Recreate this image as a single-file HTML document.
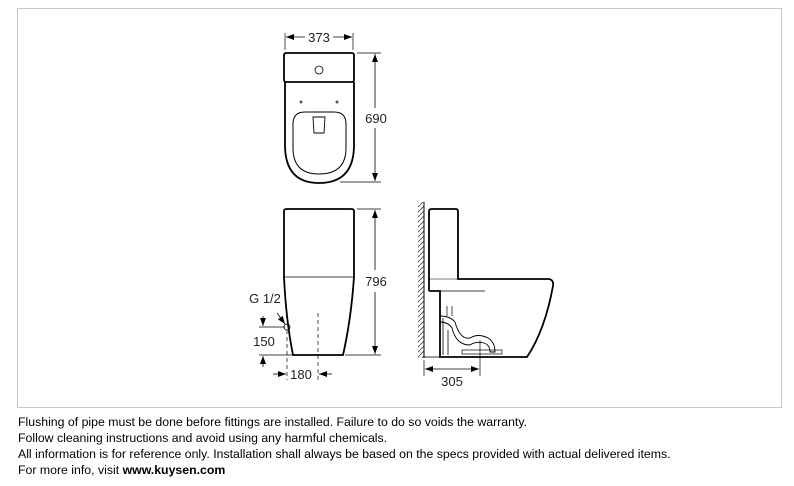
<!DOCTYPE html>
<html><head><meta charset="utf-8"><style>
body{margin:0;background:#fff;width:794px;height:486px;overflow:hidden;position:relative;font-family:"Liberation Sans",sans-serif}
.frame{position:absolute;left:17px;top:8px;width:763px;height:398px;border:1px solid #c8c8c8}
.txt{position:absolute;left:18px;top:414px;font-size:12.3px;line-height:16px;color:#000;white-space:nowrap}
svg{position:absolute;left:0;top:0}
</style></head><body>
<div class="frame"></div>
<svg width="794" height="486" viewBox="0 0 794 486">
<defs>
<marker id="a" markerWidth="8" markerHeight="6" refX="8" refY="3" orient="auto" markerUnits="userSpaceOnUse"><path d="M0,0 L8,3 L0,6z" fill="#000"/></marker>
<pattern id="h" width="5" height="5" patternUnits="userSpaceOnUse"><path d="M0,5 L5,0" stroke="#444" stroke-width="0.8"/></pattern>
</defs>
<g fill="none" stroke="#000" stroke-width="1.2">
<line x1="285" y1="33" x2="285" y2="50" stroke-width="0.7"/><line x1="353" y1="33" x2="353" y2="50" stroke-width="0.7"/>
<line x1="305" y1="37" x2="286" y2="37" marker-end="url(#a)" stroke-width="0.8"/><line x1="333" y1="37" x2="352" y2="37" marker-end="url(#a)" stroke-width="0.8"/>
<rect x="284" y="53" width="70" height="29" rx="2" stroke-width="1.8"/>
<circle cx="319" cy="70" r="4" stroke-width="0.8"/>
<path d="M285,82 L285,145 Q285,183 319,183 Q354,183 354,145 L354,82" stroke-width="1.8"/>
<path d="M293,124 Q293,112 305,112 L334,112 Q346,112 346,124 L346,148 Q346,174 319,174 Q293,174 293,148Z" stroke-width="1"/>
<path d="M313,117 L325,117 L324,133 L314,133Z" stroke-width="0.9"/>
<circle cx="301" cy="102" r="1.5" fill="#555" stroke="none"/><circle cx="337" cy="102" r="1.5" fill="#555" stroke="none"/>
<line x1="357" y1="53" x2="381" y2="53" stroke-width="0.7"/><line x1="340" y1="182" x2="381" y2="182" stroke-width="0.7"/>
<line x1="375" y1="108" x2="375" y2="54" marker-end="url(#a)" stroke-width="0.8"/><line x1="375" y1="128" x2="375" y2="181" marker-end="url(#a)" stroke-width="0.8"/>
<path d="M284,277 L284,211 Q284,209 287,209 L351,209 Q354,209 354,211 L354,277" stroke-width="1.8"/>
<line x1="284" y1="277" x2="354" y2="277" stroke-width="0.8"/>
<path d="M284,277 Q286,320 293,355 L343,355 Q351,320 354,277" stroke-width="1.8"/>
<line x1="357" y1="209" x2="381" y2="209" stroke-width="0.7"/><line x1="345" y1="355" x2="381" y2="355" stroke-width="0.7"/>
<line x1="375" y1="270" x2="375" y2="210" marker-end="url(#a)" stroke-width="0.8"/><line x1="375" y1="292" x2="375" y2="354" marker-end="url(#a)" stroke-width="0.8"/>
<line x1="318" y1="313" x2="318" y2="380" stroke-width="0.7" stroke-dasharray="4,3"/>
<line x1="287" y1="330" x2="287" y2="380" stroke-width="0.7" stroke-dasharray="4,3"/>
<circle cx="287" cy="327" r="3" stroke-width="0.8"/>
<line x1="277" y1="313" x2="285" y2="324" marker-end="url(#a)" stroke-width="0.8"/>
<line x1="259" y1="327" x2="285" y2="327" stroke-width="0.7"/><line x1="259" y1="355" x2="292" y2="355" stroke-width="0.7"/>
<line x1="263" y1="316" x2="263" y2="326" marker-end="url(#a)" stroke-width="0.8"/><line x1="263" y1="367" x2="263" y2="356" marker-end="url(#a)" stroke-width="0.8"/>
<line x1="273" y1="374" x2="286" y2="374" marker-end="url(#a)" stroke-width="0.8"/><line x1="332" y1="374" x2="319" y2="374" marker-end="url(#a)" stroke-width="0.8"/>
<rect x="418" y="202" width="6" height="156" fill="url(#h)" stroke="none"/>
<line x1="424" y1="202" x2="424" y2="358" stroke-width="1"/>
<path d="M429,291 L429,211 Q429,209 432,209 L456,209 Q458,209 458,212 L458,279 L549,279 Q554,280 553,286 Q545,330 527,357 L440,357 L440,291 L429,291" stroke-width="1.8"/>
<line x1="429" y1="279" x2="458" y2="279" stroke-width="0.6"/>
<line x1="440" y1="291" x2="485" y2="291" stroke-width="0.8"/>
<line x1="424" y1="357" x2="440" y2="357" stroke-width="0.8"/>
<path d="M443,318 L443,355 M448,330 L448,355" stroke-width="0.8"/>
<path d="M440,316 Q450,316 455,322 Q460,340 470,338 Q478,333 488,338 Q495,342 495,352 L490,352 Q490,345 484,343 Q476,341 470,345 Q456,345 452,328 Q448,322 440,322" stroke-width="0.9"/>
<path d="M447,306 L447,316 M452,306 L452,316" stroke-width="0.7"/>
<rect x="462" y="350" width="40" height="4" stroke-width="0.7"/>
<line x1="424" y1="360" x2="424" y2="376" stroke-width="0.7"/><line x1="480" y1="340" x2="480" y2="376" stroke-width="0.7"/>
<line x1="440" y1="369" x2="425" y2="369" marker-end="url(#a)" stroke-width="0.8"/><line x1="440" y1="369" x2="479" y2="369" marker-end="url(#a)" stroke-width="0.8"/>
</g>
<g font-family="Liberation Sans,sans-serif" font-size="13" fill="#222" text-anchor="middle">
<text x="319" y="42">373</text>
<text x="376" y="123">690</text>
<text x="376" y="286">796</text>
<text x="265" y="303">G 1/2</text>
<text x="264" y="346">150</text>
<text x="301" y="379">180</text>
<text x="452" y="386">305</text>
</g>
</svg>
<div class="txt">Flushing of pipe must be done before fittings are installed. Failure to do so voids the warranty.<br>Follow cleaning instructions and avoid using any harmful chemicals.<br>All information is for reference only. Installation shall always be based on the specs provided with actual delivered items.<br>For more info, visit <b>www.kuysen.com</b></div>
</body></html>
